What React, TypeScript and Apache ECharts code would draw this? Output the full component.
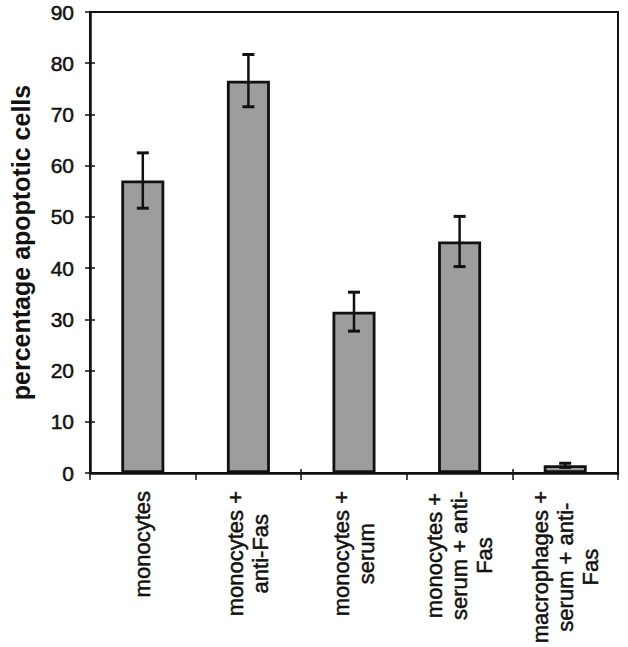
import React, { useEffect, useRef } from 'react';
import * as echarts from 'echarts';

const categories = [
  'monocytes',
  'monocytes +\nanti-Fas',
  'monocytes +\nserum',
  'monocytes +\nserum + anti-\nFas',
  'macrophages +\nserum + anti-\nFas',
];
const means = [57.1, 76.6, 31.5, 45.2, 1.5];
const errors = [5.4, 5.1, 3.8, 4.9, 0.4];
const yMin = 0;
const yMax = 90;
const yInterval = 10;
const yTitle = 'percentage apoptotic cells';

const FONT = "'Liberation Sans', Arial, Helvetica, sans-serif";
const INK = '#111111';

export default function App() {
  const ref = useRef<HTMLDivElement>(null);

  useEffect(() => {
    if (!ref.current) return;
    const chart = echarts.init(ref.current, undefined, { renderer: 'svg' });
    const errData = categories.map((_, i) => [i, means[i] - errors[i], means[i] + errors[i]]);

    chart.setOption({
      animation: false,
      backgroundColor: '#ffffff',
      grid: {
        left: 89,
        right: 10,
        top: 12,
        bottom: 174,
        show: true,
        borderColor: INK,
        borderWidth: 2,
        backgroundColor: 'transparent',
      },
      xAxis: [
        {
          type: 'category',
          data: categories,
          position: 'bottom',
          axisLine: { show: true, lineStyle: { color: INK, width: 2.5 } },
          axisTick: { show: true, inside: false, length: 7, lineStyle: { color: INK, width: 1.5 } },
          axisLabel: {
            rotate: 90,
            margin: 18,
            interval: 0,
            color: INK,
            fontFamily: FONT,
            fontSize: 22,
            lineHeight: 25,
            formatter: (v: string) =>
              v
                .split('\n')
                .map((l) => `{c|${l}}`)
                .join('\n'),
            rich: {
              c: {
                align: 'center',
                color: INK,
                fontFamily: FONT,
                fontSize: 22,
                lineHeight: 25,
                textBorderColor: INK,
                textBorderWidth: 0.5,
              },
            },
          },
          splitLine: { show: false },
        },
        {
          type: 'category',
          data: categories,
          position: 'bottom',
          axisLine: { show: false },
          axisTick: { show: true, inside: true, length: 4, lineStyle: { color: INK, width: 1.5 } },
          axisLabel: { show: false },
          splitLine: { show: false },
        },
      ],
      yAxis: [
        {
          type: 'value',
          min: yMin,
          max: yMax,
          interval: yInterval,
          position: 'left',
          name: yTitle,
          nameLocation: 'middle',
          nameGap: 57,
          nameTextStyle: {
            fontFamily: FONT,
            fontWeight: 'bold',
            fontSize: 25,
            color: INK,
          },
          axisLine: { show: true, lineStyle: { color: INK, width: 2.5 } },
          axisTick: { show: true, inside: false, length: 5, lineStyle: { color: INK, width: 1.5 } },
          axisLabel: {
            margin: 16,
            color: INK,
            fontFamily: FONT,
            fontSize: 21,
            textBorderColor: INK,
            textBorderWidth: 0.5,
          },
          splitLine: { show: false },
        },
        {
          type: 'value',
          min: yMin,
          max: yMax,
          interval: yInterval,
          position: 'left',
          axisLine: { show: false },
          axisTick: { show: true, inside: true, length: 5, lineStyle: { color: INK, width: 1.5 } },
          axisLabel: { show: false },
          splitLine: { show: false },
        },
      ],
      series: [
        {
          type: 'bar',
          xAxisIndex: 0,
          yAxisIndex: 0,
          data: means,
          barWidth: 43,
          itemStyle: {
            color: '#9d9d9d',
            borderColor: INK,
            borderWidth: 2.8,
          },
          z: 2,
        },
        {
          type: 'custom',
          xAxisIndex: 0,
          yAxisIndex: 0,
          data: errData,
          encode: { x: 0, y: [1, 2] },
          z: 3,
          renderItem: (params: any, api: any) => {
            const idx = api.value(0);
            const lo = api.coord([idx, api.value(1)]);
            const hi = api.coord([idx, api.value(2)]);
            const half = 6;
            const style = { stroke: INK, lineWidth: 2.5 };
            return {
              type: 'group',
              children: [
                { type: 'line', shape: { x1: lo[0], y1: lo[1], x2: hi[0], y2: hi[1] }, style },
                { type: 'line', shape: { x1: hi[0] - half, y1: hi[1], x2: hi[0] + half, y2: hi[1] }, style: { stroke: INK, lineWidth: 3 } },
                { type: 'line', shape: { x1: lo[0] - half, y1: lo[1], x2: lo[0] + half, y2: lo[1] }, style: { stroke: INK, lineWidth: 3 } },
              ],
            };
          },
        },
      ],
    });

    return () => chart.dispose();
  }, []);

  return (
    <div
      ref={ref}
      style={{ position: 'absolute', left: 0, top: 0, width: 628, height: 647, background: '#fff' }}
    />
  );
}
